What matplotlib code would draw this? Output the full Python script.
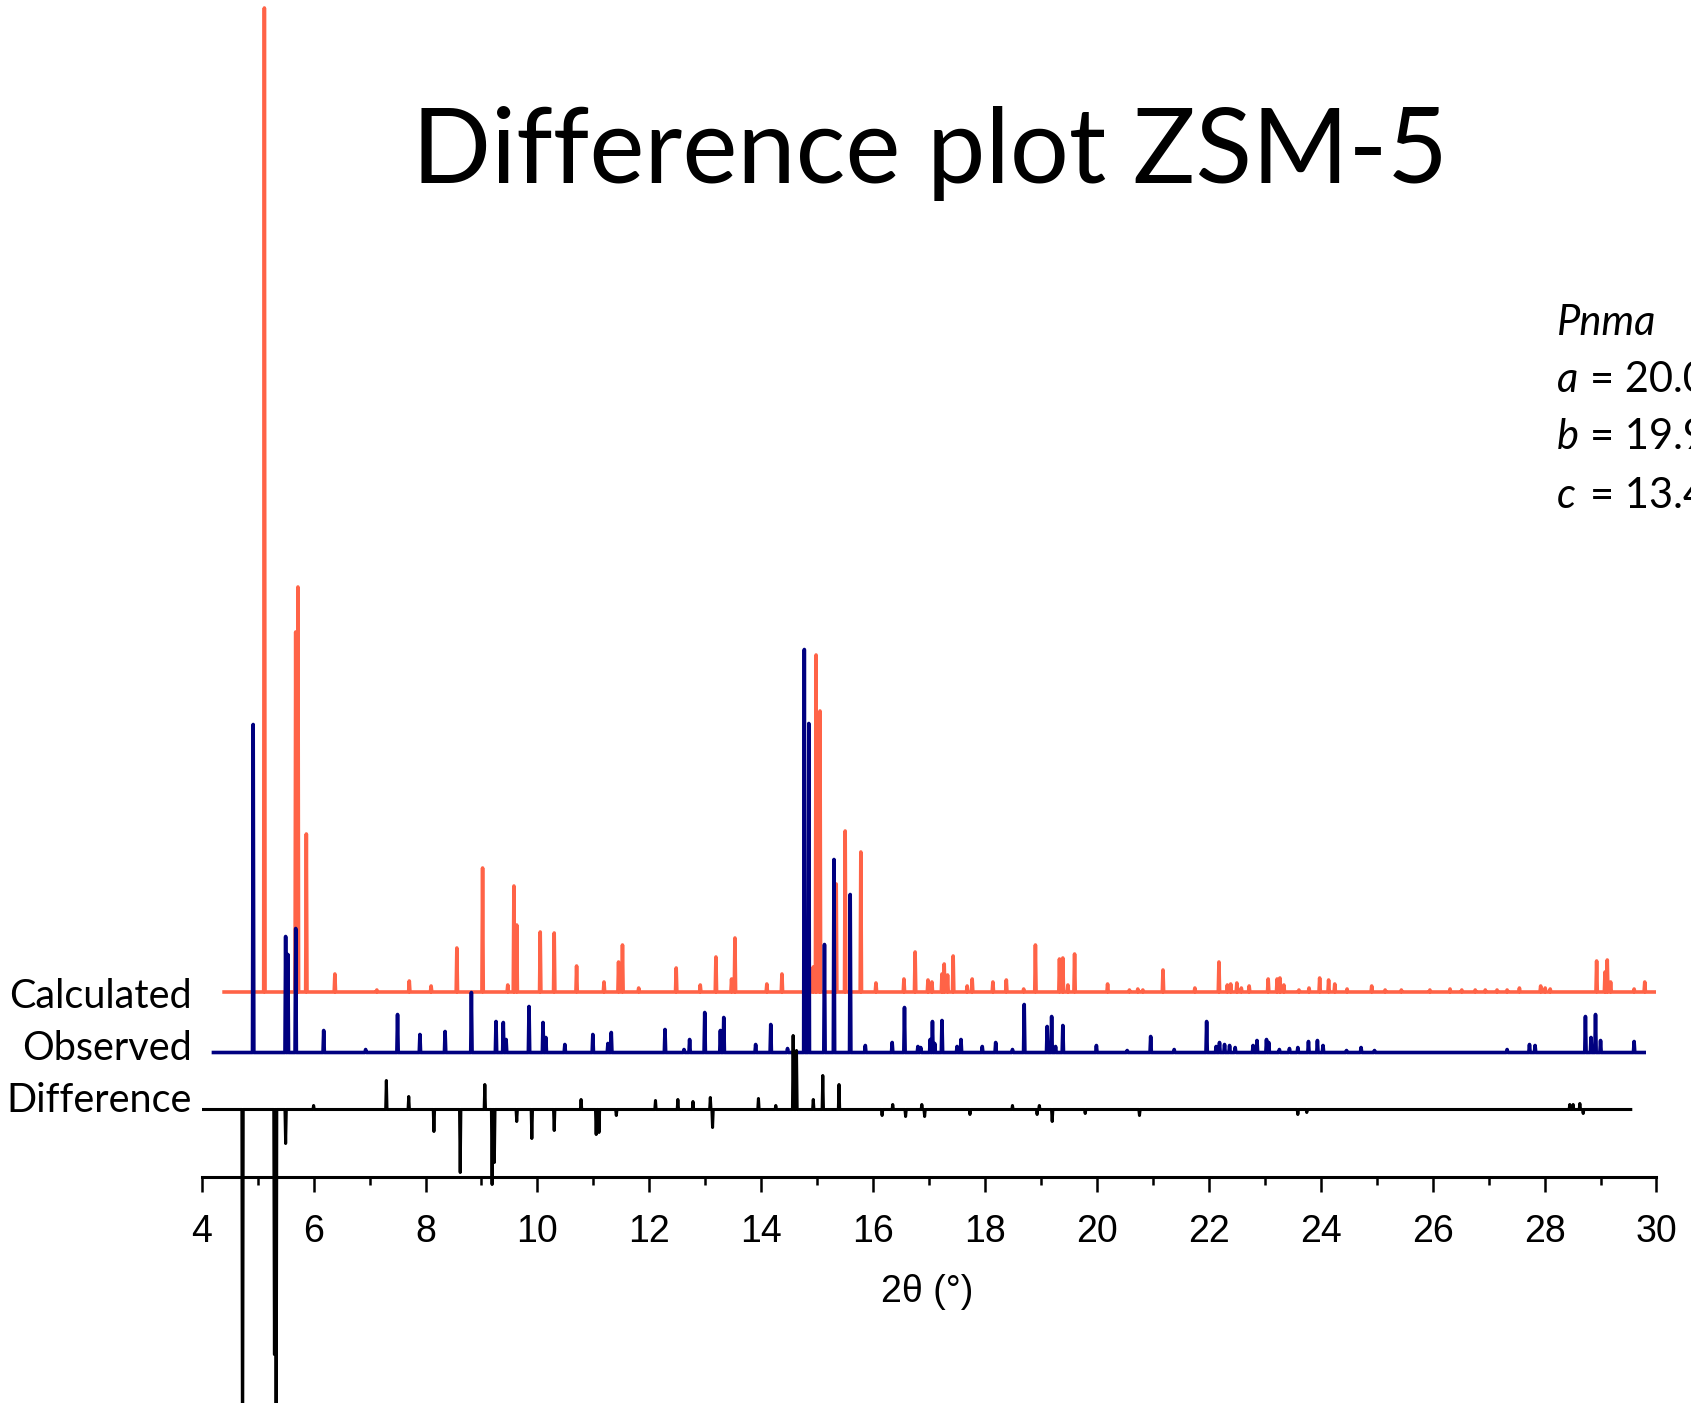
import matplotlib
matplotlib.use("Agg")
import matplotlib.pyplot as plt
from matplotlib import font_manager
from matplotlib.ticker import MultipleLocator

# peak positions (2theta, deg) and heights (a.u.)
calc_pos = [5.12, 5.68, 5.72, 5.87, 6.38, 7.13, 7.71, 8.10, 8.56, 9.02, 9.47, 9.58, 9.63,
            10.05, 10.30, 10.70, 11.19, 11.45, 11.52, 11.81, 12.48, 12.91, 13.19, 13.47, 13.53,
            14.10, 14.37, 14.93, 14.98, 15.05, 15.34, 15.50, 15.78, 16.05, 16.55, 16.75, 16.98,
            17.05, 17.23, 17.27, 17.33, 17.43, 17.68, 17.77, 18.14, 18.38, 18.69, 18.90, 19.33,
            19.39, 19.48, 19.60, 20.19, 20.58, 20.73, 20.82, 21.18, 21.75, 22.18, 22.33, 22.39,
            22.50, 22.58, 22.72, 23.06, 23.22, 23.27, 23.34, 23.61, 23.79, 23.98, 24.14, 24.25,
            24.47, 24.91, 25.15, 25.44, 25.95, 26.31, 26.52, 26.76, 26.94, 27.15, 27.33, 27.55,
            27.93, 28.01, 28.10, 28.93, 29.08, 29.12, 29.18, 29.60, 29.79]
calc_int = [984, 360, 405, 158, 18, 2, 11, 6, 44, 124, 7, 106, 67,
            60, 59, 26, 10, 30, 47, 4, 24, 7, 35, 13, 54,
            8, 18, 25, 337, 281, 108, 161, 140, 9, 13, 40, 12,
            10, 18, 28, 17, 36, 6, 13, 10, 12, 3, 47, 33,
            34, 7, 38, 8, 2, 3, 2, 22, 4, 30, 7, 8,
            9, 4, 6, 13, 13, 14, 7, 2, 4, 14, 12, 8,
            3, 6, 2, 2, 2, 3, 2, 2, 2, 2, 2, 4,
            6, 4, 3, 31, 20, 32, 10, 3, 10]

obs_pos = [4.92, 5.50, 5.54, 5.68, 6.18, 6.93, 7.50, 7.90, 8.35, 8.82, 9.26, 9.39, 9.44,
           9.85, 10.10, 10.15, 10.49, 10.99, 11.26, 11.32, 12.28, 12.62, 12.72, 12.99, 13.27,
           13.33, 13.90, 14.17, 14.47, 14.77, 14.85, 15.13, 15.30, 15.59, 15.86, 16.34, 16.56,
           16.80, 16.85, 17.02, 17.06, 17.10, 17.23, 17.50, 17.57, 17.95, 18.19, 18.49, 18.70,
           19.11, 19.19, 19.26, 19.39, 19.99, 20.54, 20.96, 21.38, 21.96, 22.13, 22.19, 22.28,
           22.37, 22.47, 22.79, 22.86, 23.03, 23.07, 23.26, 23.44, 23.59, 23.78, 23.94, 24.04,
           24.46, 24.72, 24.96, 27.33, 27.73, 27.83, 28.73, 28.83, 28.91, 29.00, 29.60]
obs_int = [328, 116, 98, 124, 22, 3, 38, 18, 21, 60, 31, 30, 13,
           46, 30, 15, 8, 18, 9, 20, 23, 3, 13, 40, 22,
           35, 8, 28, 4, 403, 329, 108, 193, 158, 7, 10, 45,
           6, 5, 13, 31, 9, 32, 6, 13, 6, 10, 3, 48,
           26, 36, 6, 27, 7, 2, 16, 3, 31, 6, 10, 8,
           7, 5, 7, 12, 13, 10, 3, 4, 5, 11, 12, 7,
           2, 5, 2, 3, 8, 7, 36, 15, 38, 12, 11]

diff_pos = [4.73, 5.30, 5.33, 5.50, 6.00, 7.30, 7.70, 8.15, 8.62, 9.06, 9.19, 9.23, 9.63,
            9.90, 10.30, 10.78, 11.05, 11.10, 11.41, 12.11, 12.51, 12.78, 13.09, 13.13, 13.95,
            14.26, 14.57, 14.63, 14.93, 15.10, 15.39, 16.16, 16.35, 16.58, 16.87, 16.92, 17.73,
            18.49, 18.93, 18.97, 19.20, 19.79, 20.76, 23.59, 23.75, 28.45, 28.51, 28.63, 28.69]
diff_int = [-420, -245, -420, -34, 4, 29, 13, -22, -63, 25, -75, -53, -12,
            -29, -21, 10, -25, -23, -6, 9, 10, 8, 12, -18, 11,
            4, 74, 59, 10, 34, 25, -6, 5, -7, 5, -7, -5,
            4, -5, 4, -12, -4, -6, -5, -3, 5, 5, 6, -4]

calc_range = (4.40, 30.0)
obs_range = (4.21, 29.78)
diff_range = (4.0, 29.54)

labels = ["Calculated", "Observed", "Difference"]
cell = ["Pnma", ("a", "= 20.07 Å"), ("b", "= 19.92 Å"), ("c", "= 13.42 Å")]

W, H = 1691, 1403


def pick(fams):
    for f in fams:
        try:
            font_manager.findfont(f, fallback_to_default=False)
            return f
        except ValueError:
            pass
    return "DejaVu Sans"


tick_font = pick(["Liberation Sans Narrow", "Liberation Sans"])
text_font = pick(["Lato", "Open Sans"])
tick_size = 29 if tick_font == "Liberation Sans Narrow" else 27

plt.rcParams['font.family'] = [tick_font, 'DejaVu Sans']


def trace(pos, inten, start, end, hw=0.012):
    xs, ys = [start], [0]
    for p, h in zip(pos, inten):
        xs += [p - hw, p, p + hw]
        ys += [0, h, 0]
    xs.append(end)
    ys.append(0)
    return xs, ys


fig = plt.figure(figsize=(W / 100, H / 100), dpi=100)
ax = fig.add_axes([201.7 / W, 0, (1656.5 - 201.7) / W, 1])
ax.set_xlim(4, 30)
ax.set_ylim(0, H)

x, y = trace(calc_pos, calc_int, *calc_range)
ax.plot(x, [v + 411 for v in y], color="#ff6347", lw=2.6)
x, y = trace(obs_pos, obs_int, *obs_range)
ax.plot(x, [v + 350.5 for v in y], color="#000080", lw=2.6)
x, y = trace(diff_pos, diff_int, *diff_range)
ax.plot(x, [v + 293.5 for v in y], color="black", lw=2.2)

for s in ["left", "right", "top"]:
    ax.spines[s].set_visible(False)
ax.spines["bottom"].set_position(("data", 226))
ax.spines["bottom"].set_linewidth(2.2)
ax.set_yticks([])
ax.xaxis.set_major_locator(MultipleLocator(2))
ax.xaxis.set_minor_locator(MultipleLocator(1))
ax.tick_params(axis="x", which="major", direction="out", length=11, width=1.8,
               pad=16, labelsize=tick_size)
ax.tick_params(axis="x", which="minor", direction="out", length=6, width=1.8)
ax.patch.set_visible(False)

fig.text(927 / W, 1 - 1302 / H, "2θ (°)", ha="center", va="baseline", fontsize=tick_size)

fig.text(930 / W, 1 - 183 / H, "Difference plot ZSM-5", ha="center", va="baseline",
         family=text_font, fontsize=75)

for lab, yb in zip(labels, [1008, 1060, 1112]):
    fig.text(192 / W, 1 - yb / H, lab, ha="right", va="baseline",
             family=text_font, fontsize=28.5)

fig.text(1557 / W, 1 - 335 / H, cell[0], ha="left", va="baseline",
         family=text_font, style="italic", fontsize=30)
for (sym, val), yb in zip(cell[1:], [392, 449, 508]):
    fig.text(1557 / W, 1 - yb / H, sym, ha="left", va="baseline",
             family=text_font, style="italic", fontsize=30)
    fig.text(1590 / W, 1 - yb / H, val, ha="left", va="baseline",
             family=text_font, fontsize=30)

fig.savefig("out.png", dpi=100)
